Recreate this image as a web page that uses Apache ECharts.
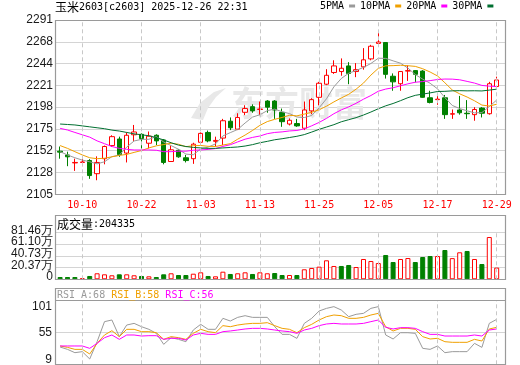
<!DOCTYPE html>
<html><head><meta charset="utf-8">
<script src="https://cdn.jsdelivr.net/npm/echarts@6/dist/echarts.min.js"></script>
<style>html,body{margin:0;padding:0;background:#fff}#c{width:520px;height:365px}</style>
</head><body><div id="c"></div>
<script>
const titleText = '玉米2603[c2603] 2025-12-26 22:31';
const dates = ['09-29','09-30','10-09','10-10','10-13','10-14','10-15','10-16','10-17','10-20',
 '10-21','10-22','10-23','10-24','10-27','10-28','10-29','10-30','10-31','11-03',
 '11-04','11-05','11-06','11-07','11-10','11-11','11-12','11-13','11-14','11-17',
 '11-18','11-19','11-20','11-21','11-24','11-25','11-26','11-27','11-28','12-01',
 '12-02','12-03','12-04','12-05','12-08','12-09','12-10','12-11','12-12','12-15',
 '12-16','12-17','12-18','12-19','12-22','12-23','12-24','12-25','12-26','12-29'];
const opens = [2151,2147,2138.5,2139,2141,2127,2143,2157,2164,2149,
 2168.5,2169,2159.5,2168,2163,2140,2152,2144,2143,2160.5,
 2171,2161.5,2165,2183,2174.5,2192.5,2198.5,2195.5,2204.5,2204.5,
 2192.5,2180,2180.5,2175.5,2194,2208.5,2222.5,2235,2236,2242,
 2236,2241,2249.5,2266,2267,2231,2223,2236.5,2237,2236.5,
 2208,2206,2208,2190.5,2195,2191.5,2190,2197,2191,2220];
const closes = [2150,2145,2139,2139.5,2125,2139,2156,2166.5,2147.5,2168,
 2171.5,2164.5,2167,2162,2139,2152.5,2145,2141,2158.5,2170,
 2162,2162.5,2183.5,2176,2187,2196.5,2194,2196,2198,2195,
 2182.5,2184,2178,2195,2206,2223.5,2232,2242,2239.5,2234,
 2238,2248.5,2263,2267.5,2233,2225,2236,2237,2233,2208.5,
 2203,2206.5,2190,2191,2192,2191,2195.5,2191.5,2223,2227];
const lows = [2143,2135,2130,2135,2121.5,2120,2137,2155.5,2145,2139,
 2162,2152.5,2154,2157.5,2137,2139.5,2144,2139,2137.5,2158,
 2160.5,2156,2157.5,2173.5,2173.5,2189.5,2192,2189.5,2192,2185.5,
 2177,2178.5,2177,2173.5,2190.5,2200,2221.5,2233.5,2231.5,2222.5,
 2230,2238,2248,2262.5,2228.5,2215.5,2215.5,2226,2224.5,2208,
 2202,2200.5,2185.5,2185.5,2190,2185.5,2183.5,2187,2190,2218];
const highs = [2156,2150.5,2143,2144,2142.5,2145.5,2157,2168,2166.5,2171,
 2179,2170,2172,2169,2164,2157,2153,2147,2160,2171,
 2173,2166.5,2185.5,2187,2191.5,2200,2201,2204,2205.5,2205.5,
 2196.5,2186,2185.5,2204,2207.5,2225,2238.5,2248,2250,2246,
 2245,2261,2264.5,2277,2267.5,2234,2236.5,2242.5,2237.5,2237.5,
 2215.5,2211,2211,2195.5,2210,2205.5,2198,2198,2225,2230.5];
const ma5 = [2150.5,2147,2144,2141.5,2139.7,2137.5,2139.7,2145.2,2146.8,2155.4,
 2161.9,2163.6,2163.7,2166.6,2160.8,2157,2153.1,2147.9,2147.2,2153.4,
 2155.3,2158.8,2167.3,2170.8,2174.2,2181.1,2187.4,2189.9,2194.3,2195.9,
 2193.1,2191.1,2187.5,2186.9,2189.1,2197.3,2206.9,2219.7,2228.6,2234.2,
 2237.1,2240.4,2244.6,2250.2,2250,2247.4,2244.9,2239.7,2232.8,2227.9,
 2223.5,2217.6,2208.2,2199.8,2196.5,2194.1,2191.9,2192.2,2198.6,2205.6];
const ma10 = [2157,2154,2150.5,2147,2144,2143,2143.5,2145,2146.5,2147.6,
 2149.7,2151.7,2154.5,2156.7,2158.1,2159.5,2158.4,2155.8,2156.9,2157.1,
 2156.2,2156,2157.6,2159,2163.8,2168.2,2173.1,2178.6,2182.6,2185,
 2187,2189.3,2188.7,2190.6,2192.5,2195.2,2199,2203.6,2207.8,2211.7,
 2217.2,2223.7,2232.2,2239.4,2242.1,2242.3,2242.7,2242.2,2241.5,2239,
 2235.5,2231.3,2224,2216.3,2212.2,2208.8,2204.8,2200.2,2199.2,2201.1];
const ma20 = [2175.4,2173.6,2171,2168.5,2166,2162,2159,2156,2154,2153,
 2152.3,2152.3,2152.3,2152,2150.5,2150.5,2151,2151,2152,2152.3,
 2152.9,2153.8,2156.1,2157.9,2160.9,2163.8,2165.7,2167.2,2169.7,2171,
 2171.6,2172.6,2173.1,2174.8,2178.1,2181.7,2186,2191,2195.1,2198.3,
 2202.1,2206.5,2210.4,2215,2217.3,2218.7,2220.8,2222.9,2224.6,2225.3,
 2226.3,2227.5,2228,2227.9,2227.2,2225.5,2223.7,2221.2,2220.4,2220];
const ma30 = [2180,2179.5,2179,2178,2177,2176,2175,2173.5,2172.5,2171,
 2169.5,2168.5,2167.5,2165.5,2163,2160,2157.5,2156,2155,2154.5,
 2154,2154,2154.5,2155,2155.5,2156.5,2158,2160,2161.5,2163.2,
 2164.3,2165.6,2166.9,2168.7,2171.4,2174.3,2176.8,2179.3,2182.4,2184.6,
 2186.8,2189.6,2192.8,2196.3,2199.4,2201.9,2204.9,2208.1,2210.6,2211.9,
 2213.2,2214.7,2214.9,2215.4,2215.6,2215.4,2215.5,2215.3,2216.2,2217.2];
const volumes = [40000,40000,40000,18000,58000,105000,87000,70000,87000,87000,
 70000,58000,52000,40000,87000,105000,75000,75000,98000,122000,
 58000,52000,133000,93000,105000,122000,93000,122000,105000,110000,
 75000,75000,75000,175000,198000,221000,332000,233000,233000,250000,
 215000,355000,320000,285000,425000,302000,355000,372000,302000,390000,
 407000,407000,512000,370000,472000,495000,355000,267000,739000,204335];
const rsiA = [34,30.6,25.8,27.3,16.7,41.7,70.7,73.1,49,65.8,
 68.2,63.4,59.6,53.8,37.9,47.5,45.1,41.7,58.6,66.8,
 59.6,59.6,75.5,71.6,76.9,79.3,76.9,76.9,76.9,63.4,
 52.3,52.3,46.5,68.2,75.5,86.1,89.9,92.4,87.5,77.9,
 81.3,82.7,89.9,92.4,51.4,45.6,54.7,54.7,53.8,32.1,
 30.6,35.5,25.8,27.3,27.3,27.3,39.3,33.5,68.2,74];
const rsiB = [35.5,33.5,30.6,30.6,23.9,39.3,51.4,57.6,49,59.6,
 59.6,56.2,56.2,54.7,45.1,49,47.5,45.1,53.8,59.6,
 56.2,54.7,64.9,63.4,65.8,67.3,68.2,68.2,69.2,64.9,
 61,59.6,54.7,62,66.8,73.1,77.9,80.3,79.3,75.5,
 75.5,76.9,80.3,82.7,63.4,57.2,61,61,59.6,49,
 45.6,46.6,41.7,40.8,40.8,40.8,45.1,42.7,60.1,62.5];
const rsiC = [35.5,35.5,35.5,35.5,32.1,39.3,47.5,51.4,45.1,51.4,
 51.4,49.9,50.4,50.4,45.1,46.6,46.6,44.1,51.4,53.8,
 52.3,52.3,56.2,57.2,58.6,60.1,61,61,60.1,58.6,
 57.2,56.2,53.8,58.6,61,64.9,67.3,68.2,67.3,67.3,
 67.3,68.2,70.7,73.1,62.5,60.1,62,62,61,56.2,
 52.3,52.3,49.9,49.9,49.9,49.9,51.4,49.9,58.6,60.1];
const priceTicks = ['2105','2128','2152','2175','2198','2221','2244','2268','2291'];
const volTicks = ['0','20.37万','40.73万','61.10万','81.46万'];
const rsiTicks = ['9','55','101'];
const xTickDates = ['10-10','10-22','11-03','11-13','11-25','12-05','12-17','12-29'];
const maNames = ['5PMA','10PMA','20PMA','30PMA'];
const rsiLabels = ['RSI_A:68','RSI_B:58','RSI_C:56'];

const MONO = "'DejaVu Sans Mono', monospace";
const CJK = "'Noto Sans CJK SC', sans-serif";
const SANS = "'Liberation Sans', Arial, sans-serif";
const RED = '#ff0000', GREEN = '#008000';
const maColors = ['#9a9a9a', '#f0a000', '#ff00ff', '#006f30'];
const rsiColors = ['#9a9a9a', '#f0a000', '#ff00ff'];
const VOL_STEP = 203650, VOL_MAX = 814600;

const N = dates.length;
const tickIdx = xTickDates.map(d => dates.indexOf(d));
const volTickValues = volTicks.map((_, k) => k * VOL_STEP);
const volEven = volTickValues.filter((_, k) => k % 2 === 0);
const volOdd = volTickValues.filter((_, k) => k % 2 === 1);
const candleData = dates.map((_, i) => [i, opens[i], closes[i], lows[i], highs[i]]);
const volData = volumes.map((v, i) => {
  const up = i === 0 ? closes[i] >= opens[i] : closes[i] >= closes[i - 1];
  return { value: [i, v], itemStyle: up
    ? { color: '#fff', borderColor: RED, borderWidth: 1 }
    : { color: GREEN, borderColor: GREEN, borderWidth: 1 } };
});
const vMark = {
  silent: true, symbol: ['none', 'none'], animation: false,
  label: { show: false }, emphasis: { disabled: true },
  lineStyle: { color: '#c8c8c8', type: [4, 3], width: 1 },
  data: tickIdx.map(i => ({ xAxis: i }))
};
const XMIN = -0.69, XMAX = 60.19;
function xAx(g, show) {
  return {
    type: 'value', gridIndex: g, min: XMIN, max: XMAX,
    axisLine: { show: false }, axisTick: { show: false }, splitLine: { show: false },
    axisLabel: show ? {
      show: true, customValues: tickIdx, formatter: v => dates[Math.round(v)] || '',
      color: RED, fontFamily: MONO, fontSize: 10, margin: 6, hideOverlap: false
    } : { show: false }
  };
}
const gridLine = { show: true, lineStyle: { color: '#d4d4d4', width: 1, type: 'solid' } };
function line(name, arr, color, xi, yi) {
  return { name, type: 'line', xAxisIndex: xi, yAxisIndex: yi, data: arr.map((v, i) => [i, v]),
    color, symbol: 'none', showSymbol: false, lineStyle: { color, width: 1 },
    itemStyle: { color }, silent: true, z: 3, animation: false };
}
function volLabelAxis(g, values) {
  return { type: 'value', gridIndex: g, min: 0, max: VOL_MAX, interval: VOL_STEP, position: 'left',
    axisLine: { show: false }, axisTick: { show: false }, splitLine: { show: false },
    axisLabel: { customValues: values, formatter: v => volTicks[Math.round(v / VOL_STEP)],
      fontFamily: SANS, fontSize: 12, color: '#1a1a1a', margin: 2,
      showMinLabel: true, showMaxLabel: true, hideOverlap: false } };
}
const rsiRich = {
  t: { fontFamily: SANS, fontSize: 12, color: '#1a1a1a', padding: [12, 0, 0, 0] },
  m: { fontFamily: SANS, fontSize: 12, color: '#1a1a1a' },
  b: { fontFamily: SANS, fontSize: 12, color: '#1a1a1a', padding: [0, 0, 10, 0] }
};
const boxStyle = { fill: 'none', stroke: '#9a9a9a', lineWidth: 1.2 };
const G = { left: 55, width: 450.5, containLabel: false, outerBoundsMode: 'none' };

const option = {
  animation: false,
  backgroundColor: '#fff',
  title: {
    text: '{c|' + titleText.slice(0, 2) + '}' + titleText.slice(2),
    left: 55, top: 1, padding: 0,
    textStyle: { fontFamily: MONO, fontSize: 10, fontWeight: 'normal', color: '#000',
      rich: { c: { fontFamily: CJK, fontSize: 12, color: '#000' } } }
  },
  legend: {
    data: maNames, left: 320, top: 1, padding: 0, itemGap: 5, itemWidth: 6, itemHeight: 3,
    align: 'right', icon: 'rect', selectedMode: false,
    textStyle: { fontFamily: MONO, fontSize: 10, color: '#000' }
  },
  grid: [
    Object.assign({ top: 20, height: 174.3 }, G),
    Object.assign({ top: 232.7, height: 46.6 }, G),
    Object.assign({ top: 300.7, height: 63.6 }, G),
    Object.assign({ top: 230.4, height: 46.6 }, G),
    Object.assign({ top: 230.4, height: 46.6 }, G)
  ],
  xAxis: [xAx(0, true), xAx(1, false), xAx(2, false), xAx(3, false), xAx(4, false)],
  yAxis: [
    { type: 'value', gridIndex: 0, min: 2105, max: 2291, show: false, splitLine: { show: false } },
    { type: 'value', gridIndex: 0, min: 0, max: priceTicks.length - 1, interval: 1, position: 'left',
      axisLine: { show: false }, axisTick: { show: false }, splitLine: gridLine,
      axisLabel: { formatter: v => priceTicks[v], fontFamily: SANS, fontSize: 12, color: '#1a1a1a', margin: 2,
        showMinLabel: true, showMaxLabel: true, hideOverlap: false } },
    { type: 'value', gridIndex: 1, min: 0, max: VOL_MAX, interval: VOL_STEP, position: 'left',
      axisLine: { show: false }, axisTick: { show: false }, splitLine: gridLine,
      axisLabel: { show: false } },
    { type: 'value', gridIndex: 2, min: 9, max: 101, show: false, splitLine: { show: false } },
    { type: 'value', gridIndex: 2, min: 0, max: rsiTicks.length - 1, interval: 1, position: 'left',
      axisLine: { show: false }, axisTick: { show: false }, splitLine: gridLine,
      axisLabel: { formatter: v => (v === 2 ? '{t|' : v === 0 ? '{b|' : '{m|') + rsiTicks[v] + '}',
        rich: rsiRich, margin: 3, showMinLabel: true, showMaxLabel: true, hideOverlap: false } },
    volLabelAxis(3, volEven),
    volLabelAxis(4, volOdd)
  ],
  series: [
    { name: 'K', type: 'candlestick', xAxisIndex: 0, yAxisIndex: 0, data: candleData,
      encode: { x: 0, y: [1, 2, 3, 4] }, barWidth: 5, silent: true, z: 2,
      itemStyle: { color: '#fff', color0: GREEN, borderColor: RED, borderColor0: GREEN,
        borderColorDoji: RED, borderWidth: 1 },
      markLine: vMark },
    line(maNames[0], ma5, maColors[0], 0, 0),
    line(maNames[1], ma10, maColors[1], 0, 0),
    line(maNames[2], ma20, maColors[2], 0, 0),
    line(maNames[3], ma30, maColors[3], 0, 0),
    { name: 'VOL', type: 'bar', xAxisIndex: 1, yAxisIndex: 2, data: volData, barWidth: 5,
      silent: true, markLine: vMark },
    Object.assign(line('RSI_A', rsiA, rsiColors[0], 2, 3), { markLine: vMark }),
    line('RSI_B', rsiB, rsiColors[1], 2, 3),
    line('RSI_C', rsiC, rsiColors[2], 2, 3)
  ],
  graphic: [
    { type: 'text', z: 1, silent: true, x: 231, y: 86,
      style: { text: '东方财富', fontFamily: CJK, fontSize: 34, fontWeight: 'bold', fill: '#e8e8e8',
        verticalAlign: 'top' } },
    { type: 'polygon', z: 1, silent: true,
      shape: { points: [[191, 118], [200, 103], [214, 92], [226, 88], [216, 97], [208, 108], [203, 120]] },
      style: { fill: '#e8e8e8' } },
    { type: 'rect', z: 50, silent: true, shape: { x: 55.5, y: 20.5, width: 450, height: 174 }, style: boxStyle },
    { type: 'rect', z: 50, silent: true, shape: { x: 55.5, y: 215.5, width: 450, height: 64 }, style: boxStyle },
    { type: 'rect', z: 50, silent: true, shape: { x: 55.5, y: 288.5, width: 450, height: 76 }, style: boxStyle },
    { type: 'line', z: 50, silent: true, shape: { x1: 55.5, y1: 300.5, x2: 505.5, y2: 300.5 }, style: { stroke: '#9a9a9a', lineWidth: 1.2 } },
    { type: 'text', z: 50, silent: true, x: 57, y: 224.5,
      style: { text: '{c|成交量}:' + volumes[N - 1], fontFamily: MONO, fontSize: 10, fill: '#000',
        verticalAlign: 'middle', rich: { c: { fontFamily: CJK, fontSize: 12, fill: '#000' } } } },
    { type: 'text', z: 50, silent: true, x: 57, y: 295,
      style: { text: '{a|' + rsiLabels[0] + '} {b|' + rsiLabels[1] + '} {c|' + rsiLabels[2] + '}',
        fontFamily: MONO, fontSize: 10, verticalAlign: 'middle',
        rich: { a: { fill: rsiColors[0], fontFamily: MONO, fontSize: 10 },
                b: { fill: rsiColors[1], fontFamily: MONO, fontSize: 10 },
                c: { fill: rsiColors[2], fontFamily: MONO, fontSize: 10 } } } }
  ]
};
const chart = echarts.init(document.getElementById('c'), null, { renderer: 'canvas' });
chart.setOption(option);
</script>
</body></html>
